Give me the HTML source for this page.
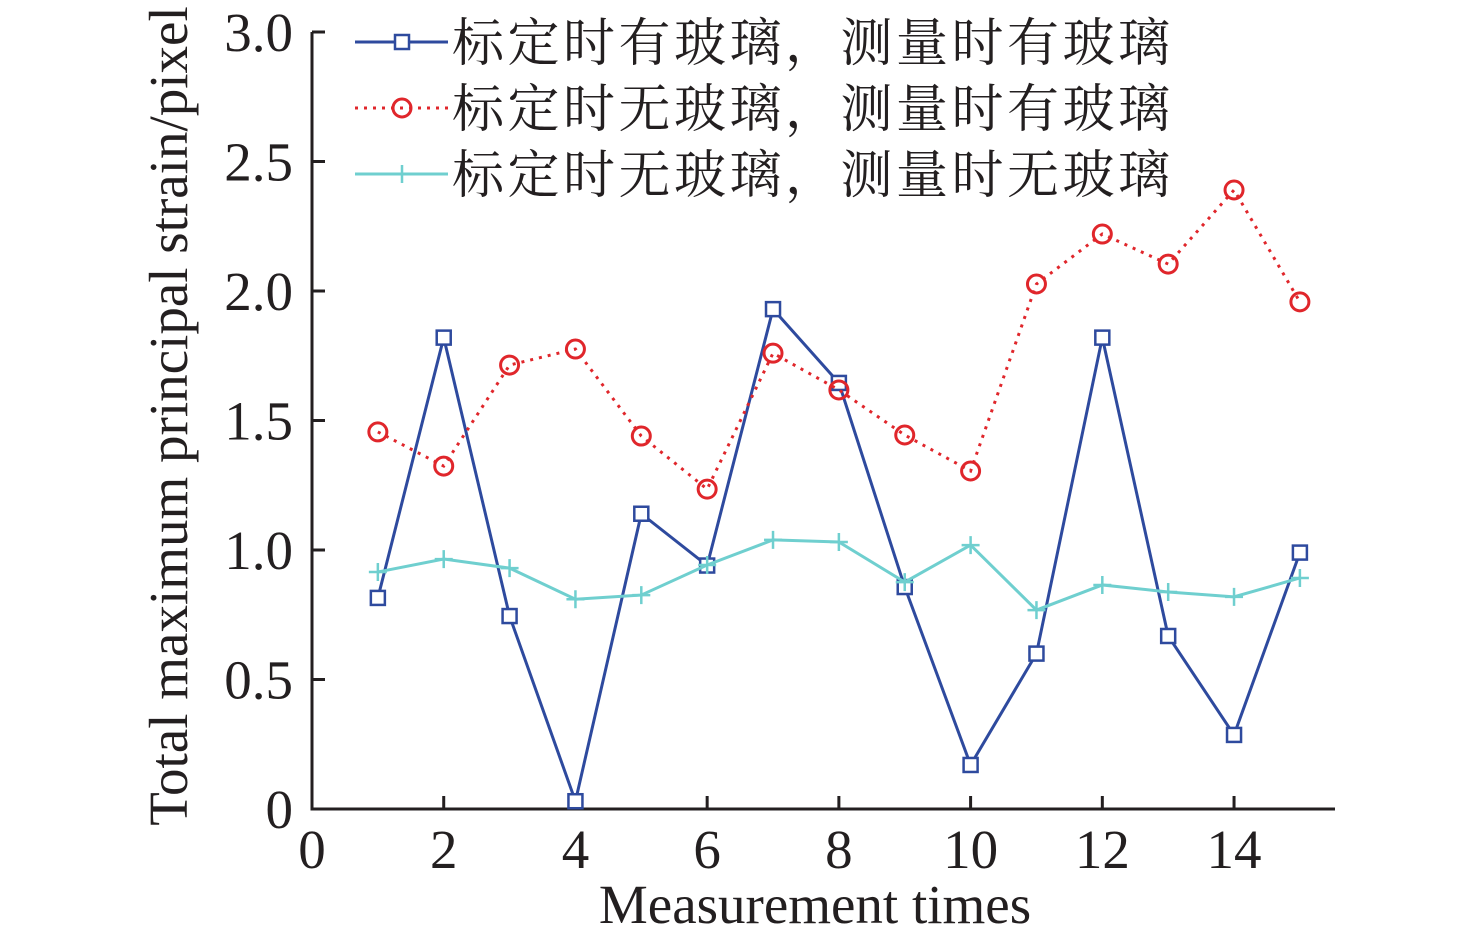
<!DOCTYPE html>
<html><head><meta charset="utf-8"><style>
html,body{margin:0;padding:0;background:#fff;}
svg{display:block;}
text{font-family:"Liberation Serif","Noto Serif CJK SC",serif;fill:#231f20;}
</style></head><body>
<svg id="chart" width="1476" height="945" viewBox="0 0 1476 945">
<g id="axes"></g><g id="series"></g><g id="legend"></g>
</svg>
<script>
const xCats=[1,2,3,4,5,6,7,8,9,10,11,12,13,14,15];
const seriesGlassGlass=[0.815,1.82,0.745,0.03,1.14,0.94,1.93,1.645,0.857,0.17,0.6,1.82,0.668,0.286,0.99];
const seriesNoGlassGlass=[1.456,1.324,1.714,1.776,1.44,1.235,1.76,1.618,1.444,1.305,2.027,2.22,2.104,2.39,1.958];
const seriesNoGlassNoGlass=[0.915,0.965,0.93,0.81,0.826,0.942,1.039,1.031,0.876,1.019,0.768,0.865,0.838,0.819,0.892];
const xTicks=[0,2,4,6,8,10,12,14];
const yTicks=[0,0.5,1.0,1.5,2.0,2.5,3.0];
const yTickLabels=["0","0.5","1.0","1.5","2.0","2.5","3.0"];
const legendLabels=["标定时有玻璃，测量时有玻璃","标定时无玻璃，测量时有玻璃","标定时无玻璃，测量时无玻璃"];

const NS="http://www.w3.org/2000/svg";
const X0=312,XU=65.86,Y0=809,YU=259;
const xs=v=>X0+v*XU, ys=v=>Y0-v*YU;
function mk(tag,attrs,parent){const e=document.createElementNS(NS,tag);for(const k in attrs)e.setAttribute(k,attrs[k]);parent.appendChild(e);return e;}
const axes=document.getElementById('axes'),ser=document.getElementById('series'),leg=document.getElementById('legend');

let a=mk('path',{d:`M${X0} 32 V${Y0} H1335`,stroke:'#231f20','stroke-width':3,fill:'none'},axes);


xTicks.forEach(t=>{
  let l=mk('line',{x1:xs(t),x2:xs(t),y1:Y0,y2:Y0-13,stroke:'#231f20','stroke-width':3},axes);
  
  
  let tx=mk('text',{x:xs(t),y:868,'text-anchor':'middle','font-size':55},axes);tx.textContent=t;
  
  
});
yTicks.forEach((t,i)=>{
  let l=mk('line',{x1:X0,x2:X0+13,y1:ys(t),y2:ys(t),stroke:'#231f20','stroke-width':3},axes);
  
  
  let tx=mk('text',{x:293,y:ys(t)+19,'text-anchor':'end','font-size':55},axes);tx.textContent=yTickLabels[i];
  
  
});
let xt=mk('text',{x:815,y:923,'text-anchor':'middle','font-size':55},axes);xt.textContent='Measurement times';


let yt=mk('text',{x:0,y:0,'text-anchor':'middle','font-size':55,transform:'translate(187 416) rotate(-90)'},axes);yt.textContent='Total maximum principal strain/pixel';



function marker(type,x,y,color,g){
  if(type==='sq')return mk('rect',{x:x-7,y:y-7,width:14,height:14,fill:'#fff',stroke:color,'stroke-width':2.5},g);
  if(type==='ci')return mk('circle',{cx:x,cy:y,r:9,fill:'none',stroke:color,'stroke-width':3},g);
  return mk('path',{d:`M${x-9} ${y}H${x+9}M${x} ${y-9}V${y+9}`,stroke:color,'stroke-width':2.5},g);
}
const defs=[
 {vals:seriesGlassGlass,color:'#2e4a9e',dash:null,m:'sq',name:'series-glass-glass'},
 {vals:seriesNoGlassGlass,color:'#e0262b',dash:'3 6',m:'ci',name:'series-noglass-glass'},
 {vals:seriesNoGlassNoGlass,color:'#6fcfcf',dash:null,m:'pl',name:'series-noglass-noglass'}
];
defs.forEach((s,si)=>{
  const g=mk('g',{},ser);
  
  
  const pts=s.vals.map((v,i)=>xs(xCats[i])+','+ys(v)).join(' ');
  const attrs={points:pts,fill:'none',stroke:s.color,'stroke-width':3};
  if(s.dash)attrs['stroke-dasharray']=s.dash;
  let pl=mk('polyline',attrs,g);
  
  
  s.vals.forEach((v,i)=>{
    let m=marker(s.m,xs(xCats[i]),ys(v),s.color,g);
    
    
  });
  const ly=42+si*66;
  const lg=mk('g',{},leg);
  
  
  const la={x1:355,x2:448,y1:ly,y2:ly,stroke:s.color,'stroke-width':3};
  if(s.dash)la['stroke-dasharray']=s.dash;
  mk('line',la,lg);
  marker(s.m,402,ly,s.color,lg);
  let tx=mk('text',{x:452,y:ly+19,'font-size':52,textLength:718,lengthAdjust:'spacing'},lg);tx.textContent=legendLabels[si];
});
</script>
</body></html>
